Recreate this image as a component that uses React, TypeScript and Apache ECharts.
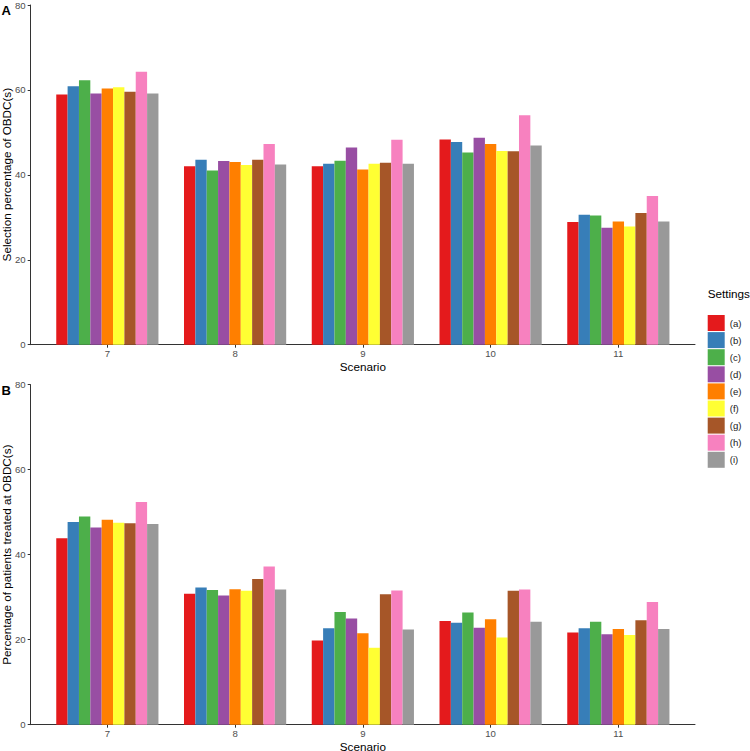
import React, { useEffect, useRef } from "react";
import * as echarts from "echarts";

const scenarios = ["7", "8", "9", "10", "11"];
const settings = ["(a)", "(b)", "(c)", "(d)", "(e)", "(f)", "(g)", "(h)", "(i)"];
const colors = ["#E41A1C", "#377EB8", "#4DAF4A", "#984EA3", "#FF7F00", "#FFFF33", "#A65628", "#F781BF", "#999999"];

// Panel A: Selection percentage of OBDC(s), one row per setting, columns = scenarios 7..11
const selA = [58.9, 42.0, 42.0, 48.3, 28.9];
const selB = [60.8, 43.5, 42.6, 47.7, 30.6];
const selC = [62.2, 41.0, 43.3, 45.2, 30.4];
const selD = [59.1, 43.2, 46.4, 48.7, 27.5];
const selE = [60.3, 43.0, 41.2, 47.2, 29.0];
const selF = [60.6, 42.3, 42.6, 45.6, 27.8];
const selG = [59.5, 43.5, 42.8, 45.5, 31.0];
const selH = [64.2, 47.2, 48.2, 54.0, 35.0];
const selI = [59.1, 42.4, 42.6, 46.9, 29.0];

// Panel B: Percentage of patients treated at OBDC(s)
const trtA = [43.9, 30.8, 19.8, 24.4, 21.7];
const trtB = [47.7, 32.3, 22.7, 24.0, 22.7];
const trtC = [49.0, 31.7, 26.5, 26.4, 24.2];
const trtD = [46.4, 30.4, 25.0, 22.8, 21.3];
const trtE = [48.2, 31.9, 21.5, 24.8, 22.5];
const trtF = [47.5, 31.5, 18.1, 20.5, 21.1];
const trtG = [47.4, 34.3, 30.7, 31.5, 24.6];
const trtH = [52.4, 37.2, 31.6, 31.8, 28.9];
const trtI = [47.2, 31.8, 22.4, 24.2, 22.5];

const selection = [selA, selB, selC, selD, selE, selF, selG, selH, selI];
const treated = [trtA, trtB, trtC, trtD, trtE, trtF, trtG, trtH, trtI];

const yTitles = ["Selection percentage of OBDC(s)", "Percentage of patients treated at OBDC(s)"];
const xTitle = "Scenario";
const panelLabels = ["A", "B"];

const FONT = "'Liberation Sans', Arial, Helvetica, sans-serif";
const AXIS_COLOR = "#333333";
const LABEL_COLOR = "#4D4D4D";

// geometry (ggplot discrete axis: 0.6 band expansion on each side)
const PLOT_LEFT = 30.7;
const PLOT_WIDTH = 664.3;
const PLOT_HEIGHT = 340;
const PANEL_TOPS = [4.7, 384.7];
const BAND = PLOT_WIDTH / (scenarios.length + 0.2);

export default function App() {
  const ref = useRef<HTMLDivElement>(null);
  useEffect(() => {
    if (!ref.current) return;
    const chart = echarts.init(ref.current, null, { renderer: "svg" });

    const grid: any[] = [];
    const xAxis: any[] = [];
    const yAxis: any[] = [];
    const series: any[] = [];
    const graphic: any[] = [];

    [selection, treated].forEach((panel, p) => {
      const top = PANEL_TOPS[p];
      const frameIdx = p * 2;
      const barIdx = p * 2 + 1;
      // frame grid: full axis lines, y axis ticks/labels
      grid.push({ left: PLOT_LEFT, top, width: PLOT_WIDTH, height: PLOT_HEIGHT });
      // bar grid: inset by 0.1 band so categories get ggplot's 0.6 expansion
      grid.push({ left: PLOT_LEFT + BAND * 0.1, top, width: BAND * scenarios.length, height: PLOT_HEIGHT });

      xAxis.push({
        gridIndex: frameIdx,
        type: "value",
        min: 0,
        max: 1,
        axisLine: { show: true, lineStyle: { color: AXIS_COLOR, width: 1 } },
        axisTick: { show: false },
        axisLabel: { show: false },
        splitLine: { show: false },
      });
      xAxis.push({
        gridIndex: barIdx,
        type: "category",
        data: scenarios,
        axisLine: { show: false },
        axisTick: { show: true, alignWithLabel: true, length: 3, lineStyle: { color: AXIS_COLOR } },
        axisLabel: { margin: 4, color: LABEL_COLOR, fontSize: 9.6, lineHeight: 10, fontFamily: FONT },
        splitLine: { show: false },
      });

      yAxis.push({
        gridIndex: frameIdx,
        type: "value",
        min: 0,
        max: 80,
        interval: 20,
        axisLine: { show: true, lineStyle: { color: AXIS_COLOR, width: 1 } },
        axisTick: { show: true, length: 3, lineStyle: { color: AXIS_COLOR } },
        axisLabel: { margin: 5, color: LABEL_COLOR, fontSize: 9.6, fontFamily: FONT },
        splitLine: { show: false },
      });
      yAxis.push({
        gridIndex: barIdx,
        type: "value",
        min: 0,
        max: 80,
        interval: 20,
        show: false,
        splitLine: { show: false },
      });

      // axis titles and panel tag
      graphic.push({
        type: "text",
        x: 6.5,
        y: top + PLOT_HEIGHT / 2,
        rotation: Math.PI / 2,
        silent: true,
        style: {
          text: yTitles[p],
          fill: "#000",
          font: `11.7px ${FONT}`,
          align: "center",
          verticalAlign: "middle",
        },
      });
      graphic.push({
        type: "text",
        x: PLOT_LEFT + PLOT_WIDTH / 2,
        y: top + PLOT_HEIGHT + 21.3,
        silent: true,
        style: {
          text: xTitle,
          fill: "#000",
          font: `11.7px ${FONT}`,
          align: "center",
          verticalAlign: "middle",
        },
      });
      graphic.push({
        type: "text",
        x: 1.5,
        y: top + 5.5,
        silent: true,
        style: {
          text: panelLabels[p],
          fill: "#000",
          font: `bold 13px ${FONT}`,
          align: "left",
          verticalAlign: "middle",
        },
      });

      panel.forEach((vals, s) => {
        series.push({
          type: "bar",
          name: settings[s],
          xAxisIndex: barIdx,
          yAxisIndex: barIdx,
          data: vals,
          itemStyle: { color: colors[s] },
          barGap: "0%",
          barCategoryGap: "20%",
          emphasis: { disabled: true },
        });
      });
    });

    chart.setOption({
      animation: false,
      textStyle: { fontFamily: FONT },
      title: [
        { text: "Settings", left: 707.7, top: 287, padding: 0, textStyle: { fontSize: 11.7, fontWeight: "normal", color: "#000", fontFamily: FONT } },
      ],
      legend: {
        orient: "vertical",
        left: 707.7,
        top: 315,
        padding: 0,
        itemWidth: 17,
        itemHeight: 16,
        itemGap: 1.1,
        icon: "rect",
        data: settings,
        selectedMode: false,
        textStyle: { fontSize: 9.6, color: "#1A1A1A", fontFamily: FONT },
      },
      grid,
      xAxis,
      yAxis,
      series,
      graphic,
    });
    return () => chart.dispose();
  }, []);
  return (
    <div
      ref={ref}
      style={{ position: "absolute", left: 0, top: 0, width: 750, height: 751, background: "#fff" }}
    />
  );
}
